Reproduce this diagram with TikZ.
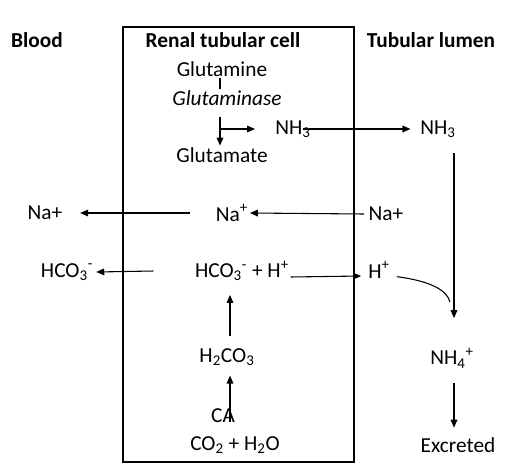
\documentclass[tikz,border=0pt]{standalone}
\usepackage{fontspec}
\setmainfont{Carlito}
\usetikzlibrary{arrows.meta}
\begin{document}
\begin{tikzpicture}[x=0.75pt,y=-0.75pt,line width=0.8pt,
    >={Triangle[length=6pt,width=5pt]},
    every node/.style={font=\fontsize{16}{19}\selectfont,inner sep=1pt},
    head/.style={font=\fontsize{16}{19}\selectfont\bfseries}]
     \useasboundingbox (0,0) rectangle (508,469);
     % The cell:
     % Is simply a rectangle between blood and lumen
     \draw (123,27) rectangle (354,462);

     % Headings:
     \node [head] (blood) at (37,40)  {Blood};
     \node [head] (cell)  at (223,40) {Renal tubular cell};
     \node [head] (lumen) at (431,40) {Tubular lumen};

     % Ammonia:
     % Glutamine is split, the NH3 goes out into the lumen
     \node (gln)  at (222,69)  {Glutamine};
     \node (gase) at (227,98)  {\itshape Glutaminase};
     \node (glu)  at (222,155) {Glutamate};
     \node (nhA)  at (293,129) {NH\textsubscript{3}};
     \node (nhB)  at (438,129) {NH\textsubscript{3}};
     \node (nh4)  at (452,358) {NH\textsubscript{4}\textsuperscript{+}};
     \node (exc)  at (458,445) {Excreted};
     \coordinate (fork) at (220,117);
     \coordinate (nhIn) at (255,129);
     \coordinate (down) at (454,153);
     \draw (gln.south -| fork) -- (gase.north -| fork);
     \draw [->] (fork) -- (fork |- glu.north);
     \draw [->] (fork |- nhA) -- (nhIn);
     \draw [->] ([xshift=-7pt]nhA.east) -- ([xshift=-6pt]nhB.west);
     \draw [->] (down) -- ([yshift=21pt]nh4.north -| down);
     \draw [->] ([yshift=-10pt]nh4.south -| down) -- ([yshift=6pt]exc.north -| down);

     % Sodium:
     \node (naL) at (45,213)  {Na+};
     \node (naC) at (232,213) {Na\textsuperscript{+}};
     \node (naR) at (386,214) {Na+};
     \draw [->] ([xshift=-18pt]naC.west) -- ([xshift=12pt]naL.east);
     \draw [->] ([xshift=-2pt]naR.west) -- (naC.east);

     % Bicarbonate:
     % Carbonic anhydrase (CA) makes H2CO3, which splits up
     \node (hcoL) at (67,272)  {HCO\textsubscript{3}\textsuperscript{-}};
     \node (hcoC) at (242,271) {HCO\textsubscript{3}\textsuperscript{-} + H\textsuperscript{+}};
     \node (hR)   at (379,270) {H\textsuperscript{+}};
     \node (hco)  at (227,357) {H\textsubscript{2}CO\textsubscript{3}};
     \node (ca)   at (223,416) {CA};
     \node (co)   at (235,445) {CO\textsubscript{2} + H\textsubscript{2}O};
     \coordinate (up) at (230,0);
     \draw [->] ([xshift=-30pt]hcoC.west) -- ([xshift=1pt]hcoL.east);
     \draw [->] ([yshift=-4.5pt]hcoC.east) -- ([yshift=-4.5pt,xshift=-4pt]hR.west);
     \draw [->] ([yshift=7.5pt]hco.north -| up) -- ([yshift=-9pt]hcoC.south -| up);
     \draw [->] ([yshift=9pt]co.north -| up) -- ([yshift=-6pt]hco.south -| up);
     \draw ([xshift=4pt,yshift=-5pt]hR.east) .. controls (430,281) and (447,290) .. (450,302);
\end{tikzpicture}
\end{document}
